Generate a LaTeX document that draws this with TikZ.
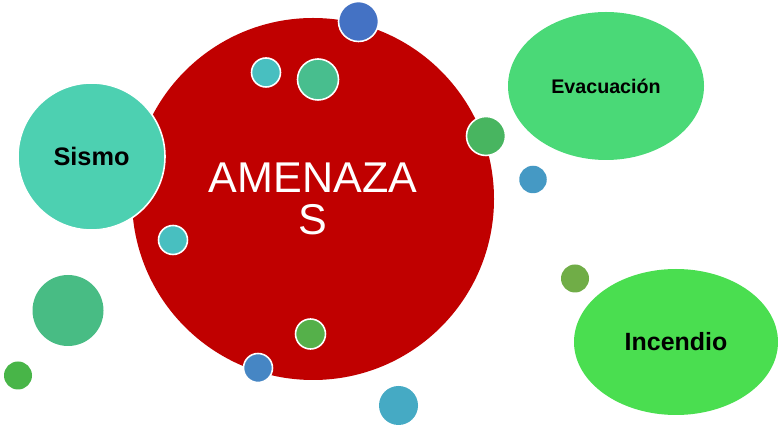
\documentclass[tikz,border=0pt]{standalone}
\usepackage{fontspec}
\setmainfont{Liberation Sans}
\definecolor{rouge}{HTML}{C00000}
\definecolor{sismocol}{HTML}{4DD0B1}
\definecolor{evaccol}{HTML}{4AD977}
\definecolor{incencol}{HTML}{4ADE50}
\definecolor{bleu}{HTML}{4472C4}
\definecolor{bleuclair}{HTML}{4599C4}
\definecolor{bleubas}{HTML}{4686C4}
\definecolor{turq}{HTML}{48BFC0}
\definecolor{turqbas}{HTML}{45AAC4}
\definecolor{vertmer}{HTML}{48BE8E}
\definecolor{vertgris}{HTML}{48BC84}
\definecolor{vert}{HTML}{48B560}
\definecolor{vertmoyen}{HTML}{55B04A}
\definecolor{vertfonce}{HTML}{48B548}
\definecolor{olive}{HTML}{70AD47}
\tikzset{
  bubble/.style={circle,inner sep=0pt},
  ring/.style={bubble,draw=white,line width=0.9pt},
  blob/.style={ellipse,inner sep=0pt},
}
\usetikzlibrary{shapes.geometric}
\begin{document}
\begin{tikzpicture}
        \useasboundingbox (0,0) rectangle (15.56,8.52);
        % grand cercle
        \node (amenazas) [bubble,fill=rouge,minimum size=7.24cm,text=white,
              align=center,font=\fontsize{24.5}{24}\selectfont]
              at (6.26,4.54) {AMENAZA\\S};
        % bulles nommees
        \node (sismo) [ring,fill=sismocol,minimum size=2.94cm,font=\fontsize{14.4}{16}\selectfont\bfseries]
              at (1.83,5.39) {Sismo};
        \node (evacuacion) [blob,fill=evaccol,minimum width=3.92cm,minimum height=2.96cm,
              font=\fontsize{11.2}{13}\selectfont\bfseries] at (12.12,6.80) {Evacuación};
        \node (incendio) [blob,fill=incencol,minimum width=4.08cm,minimum height=2.92cm,
              font=\fontsize{14.2}{16}\selectfont\bfseries] at (13.52,1.68) {Incendio};
        % petites bulles avec bord blanc
        \node (haut) [ring,fill=bleu,minimum size=0.80cm] at (7.17,8.09) {};
        \node (turq1) [ring,fill=turq,minimum size=0.58cm] at (5.32,7.07) {};
        \node (mer) [ring,fill=vertmer,minimum size=0.82cm] at (6.36,6.93) {};
        \node (droite) [ring,fill=vert,minimum size=0.78cm] at (9.72,5.80) {};
        \node (turq2) [ring,fill=turq,minimum size=0.58cm] at (3.46,3.72) {};
        \node (milieu) [ring,fill=vertmoyen,minimum size=0.60cm] at (6.21,1.84) {};
        \node (bas) [ring,fill=bleubas,minimum size=0.58cm] at (5.16,1.16) {};
        % petites bulles sans bord
        \node (clair) [bubble,fill=bleuclair,minimum size=0.55cm] at (10.66,4.93) {};
        \node (turq3) [bubble,fill=turqbas,minimum size=0.78cm] at (7.97,0.41) {};
        \node (gauche) [bubble,fill=vertgris,minimum size=1.42cm] at (1.36,2.31) {};
        \node (coin) [bubble,fill=vertfonce,minimum size=0.56cm] at (0.36,1.01) {};
        \node (olive) [bubble,fill=olive,minimum size=0.56cm] at (11.50,2.95) {};
      \end{tikzpicture}
\end{document}
